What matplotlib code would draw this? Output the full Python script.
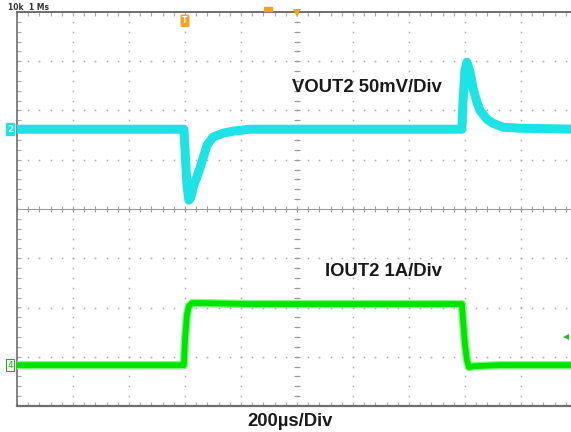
import numpy as np
import matplotlib
matplotlib.use('Agg')
import matplotlib.pyplot as plt

# scope settings
TIME_PER_DIV = 200.0      # us / div
VOUT_PER_DIV = 50.0       # mV / div
IOUT_PER_DIV = 1.0        # A / div
VOUT_OFFSET = 1.62        # div, channel 2 ground marker
IOUT_OFFSET = -3.17       # div, channel 4 ground marker

# VOUT2 (AC coupled, mV deviation)
vout_t = [0, 596, 600, 607, 614, 621, 629, 654, 679, 700, 736, 771, 832,
          1589, 1593, 1600, 1607, 1618, 1629, 1643, 1654, 1679, 1700, 1736, 1796, 2000]
vout_mv = [0, 0, -21, -57, -72, -69, -59, -39, -16, -8, -4, -2, 0,
           0, 29, 60, 68, 58, 41, 27, 19, 10, 6, 2, 1, 0]

# IOUT2 load step (A)
iout_t = [0, 596, 600, 607, 614, 625, 654, 832, 1589, 1593, 1600, 1607, 1614, 1636, 1725, 2000]
iout_a = [0, 0, 0.51, 1.02, 1.20, 1.26, 1.26, 1.24, 1.24, 0.91, 0.41, 0.10, -0.04, -0.02, 0, 0]

CYAN = '#1de3e6'
GREEN = '#00e400'
GREEN_LIGHT = '#7dff7d'
ORANGE = '#f7a21b'
FRAME = '#6e6e6e'
GRID = '#a8a8a8'

W, H = 571, 432
fig = plt.figure(figsize=(W / 100, H / 100), dpi=100)
fig.patch.set_facecolor('white')
ax = fig.add_axes([17 / W, 26 / H, 560 / W, 394 / H])
ax.set_xlim(0, 10 * TIME_PER_DIV)
ax.set_ylim(-4, 4)
ax.axis('off')

# graticule: dotted major lines
minor_x = np.arange(0, 2001, TIME_PER_DIV / 5)
minor_y = np.arange(-4, 4.01, 0.2)
for k in range(1, 10):
    ax.plot(np.full_like(minor_y, k * TIME_PER_DIV), minor_y, ls='none', marker='s',
            ms=1.1, mew=0, color=GRID, zorder=1)
for j in range(-3, 4):
    if j == 0:
        continue
    ax.plot(minor_x, np.full_like(minor_x, j), ls='none', marker='s',
            ms=1.1, mew=0, color=GRID, zorder=1)

# centre cross with ticks
ax.plot([0, 2000], [0, 0], color='#9a9a9a', lw=0.8, zorder=1)
ax.plot(minor_x, np.zeros_like(minor_x), ls='none', marker='|', ms=4, mew=0.8, color='#9a9a9a', zorder=1)
ax.plot(np.full_like(minor_y, 1000), minor_y, ls='none', marker='_', ms=4, mew=0.8, color='#9a9a9a', zorder=1)

# frame edges with ticks
ax.plot([0, 2000], [4, 4], color=FRAME, lw=1.4, clip_on=False, zorder=3)
ax.plot([0, 2000], [-4, -4], color=FRAME, lw=1.6, clip_on=False, zorder=3)
ax.plot([0, 0], [-4, 4], color=FRAME, lw=1.2, clip_on=False, zorder=3)
ax.plot(minor_x, np.full_like(minor_x, 3.96), ls='none', marker='|', ms=3, mew=0.8, color=GRID, clip_on=False)
ax.plot(minor_x, np.full_like(minor_x, -3.96), ls='none', marker='|', ms=3, mew=0.8, color=GRID, clip_on=False)
ax.plot(np.full_like(minor_y, 8), minor_y, ls='none', marker='_', ms=3, mew=0.8, color=GRID, clip_on=False)

# traces
vt = np.array(vout_t)
vy = VOUT_OFFSET + np.array(vout_mv) / VOUT_PER_DIV
ax.plot(vt, vy, color=CYAN, lw=6.5, solid_joinstyle='round', zorder=4)

it = np.array(iout_t)
iy = IOUT_OFFSET + np.array(iout_a) / IOUT_PER_DIV
ax.plot(it, iy, color=GREEN_LIGHT, lw=6.0, solid_joinstyle='round', zorder=4)
ax.plot(it, iy, color=GREEN, lw=4.2, solid_joinstyle='round', zorder=5)

# markers: trigger, position, channel references
ax.text(600, 3.82, 'T', color='white', fontsize=5.5, weight='bold', ha='center', va='center',
        bbox=dict(boxstyle='round,pad=0.15', fc=ORANGE, ec=ORANGE), zorder=7)
ax.plot([890, 905], [4.06, 4.06], ls='none', marker='s', ms=2.2, color=ORANGE, clip_on=False, zorder=7)
ax.plot([1000], [3.97], marker='v', ms=6, color=ORANGE, mew=0, clip_on=False, zorder=7)
ax.plot([1962], [-2.6], marker='<', ms=5, color='#22bb22', mew=0, clip_on=False, zorder=7)

fig.text(10 / W, 1 - 129 / H, '2', color='white', fontsize=6.5, weight='bold', ha='center', va='center',
         bbox=dict(boxstyle='square,pad=0.12', fc=CYAN, ec=CYAN))
fig.text(10 / W, 1 - 365 / H, '4', color='#22aa22', fontsize=6.5, ha='center', va='center',
         bbox=dict(boxstyle='square,pad=0.12', fc='white', ec='#22aa22', lw=0.8))
fig.text(8 / W, 1 - 8 / H, '10k  1 Ms', color='#333333', fontsize=5.5, weight='bold', ha='left', va='center')

# labels
LABEL_SIZE = 13.3
fig.text(442 / W, 1 - 87 / H, 'VOUT2 50mV/Div', fontsize=LABEL_SIZE, weight='bold',
         family='Liberation Sans', color='#1a1a1a', ha='right', va='center')
fig.text(442 / W, 1 - 272 / H, 'IOUT2 1A/Div', fontsize=LABEL_SIZE, weight='bold',
         family='Liberation Sans', color='#1a1a1a', ha='right', va='center')
fig.text(290 / W, 1 - 421 / H, '200µs/Div', fontsize=LABEL_SIZE, weight='bold',
         family='Liberation Sans', color='#1a1a1a', ha='center', va='center')

fig.savefig('out.png', dpi=100)
